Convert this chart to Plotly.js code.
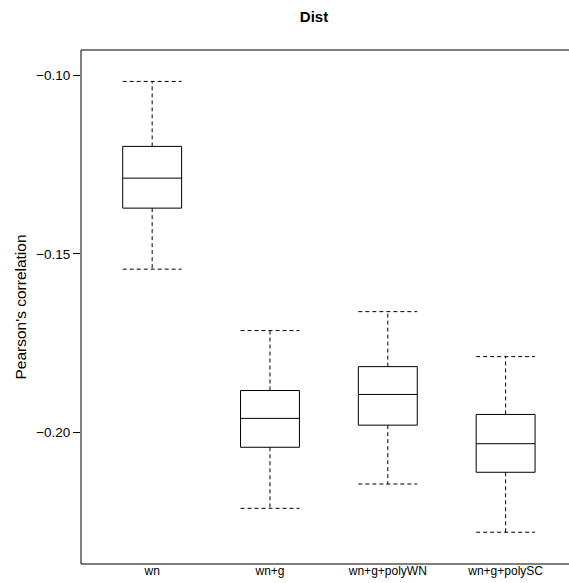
<!DOCTYPE html>
<html>
<head>
<meta charset="utf-8">
<script src="https://cdn.plot.ly/plotly-3.0.1.min.js"></script>
<style>
html, body { margin: 0; padding: 0; overflow: hidden; background: #fff; }
#chart { width: 569px; height: 583px; }
</style>
</head>
<body>
<div id="chart"></div>
<script>
// Data
const categories = ["wn", "wn+g", "wn+g+polyWN", "wn+g+polySC"];
const lowerWhisker = [-0.1543, -0.2213, -0.2145, -0.2280];
const q1Values     = [-0.1372, -0.2042, -0.1980, -0.2112];
const medianValues = [-0.1288, -0.1961, -0.1894, -0.2032];
const q3Values     = [-0.1199, -0.1883, -0.1816, -0.1950];
const upperWhisker = [-0.1017, -0.1715, -0.1662, -0.1788];
const yTickVals    = [-0.20, -0.15, -0.10];
const yTickText    = ["\u22120.20", "\u22120.15", "\u22120.10"];

const positions = categories.map((_, i) => i + 1);
const boxWidth = 0.5;
const half = boxWidth / 2;

// dashed whisker stems and caps
const wx = [], wy = [];
positions.forEach((p, i) => {
  wx.push(p, p, null, p, p, null);
  wy.push(q3Values[i], upperWhisker[i], null, q1Values[i], lowerWhisker[i], null);
  wx.push(p - half, p + half, null, p - half, p + half, null);
  wy.push(upperWhisker[i], upperWhisker[i], null, lowerWhisker[i], lowerWhisker[i], null);
});

const traces = [
  {
    type: "scatter", mode: "lines", x: wx, y: wy,
    line: { color: "#000", width: 1, dash: "4px,3px" },
    hoverinfo: "skip", showlegend: false, connectgaps: false
  },
  {
    type: "box", x: positions,
    q1: q1Values, median: medianValues, q3: q3Values,
    lowerfence: q1Values, upperfence: q3Values,
    width: boxWidth, whiskerwidth: 0,
    fillcolor: "#fff", line: { color: "#000", width: 1 },
    boxpoints: false, showlegend: false
  }
];

const frame = { color: "#000", width: 1 };
const layout = {
  width: 569, height: 583,
  margin: { l: 80.7, r: 0, t: 50, b: 18.7 },
  paper_bgcolor: "#fff", plot_bgcolor: "#fff",
  font: { family: "Liberation Sans, Arial, sans-serif", color: "#000", size: 12 },
  title: {
    text: "<b>Dist</b>", font: { size: 15, color: "#000" },
    x: 314 / 569, xref: "container", xanchor: "center",
    y: 1 - 17 / 583, yref: "container", yanchor: "middle"
  },
  shapes: [
    { type: "line", xref: "paper", yref: "paper", x0: 0, x1: 0, y0: 0, y1: 1, line: frame },
    { type: "line", xref: "paper", yref: "paper", x0: 0, x1: 1.05, y0: 0, y1: 0, line: frame },
    { type: "line", xref: "paper", yref: "paper", x0: 0, x1: 1.05, y0: 1, y1: 1, line: frame }
  ],
  xaxis: {
    range: [0.396, 4.538], tickvals: positions, ticktext: categories,
    ticks: "", showgrid: false, zeroline: false, showline: false,
    tickfont: { size: 12 }, ticklabelstandoff: -2, fixedrange: true
  },
  yaxis: {
    range: [-0.2369, -0.0929], tickvals: yTickVals, ticktext: yTickText,
    ticks: "outside", ticklen: 7, tickcolor: "#000", tickwidth: 1,
    showgrid: false, zeroline: false, showline: false,
    tickfont: { size: 13.5 },
    title: { text: "Pearson's correlation", font: { size: 15.5 }, standoff: 5 },
    fixedrange: true
  }
};

Plotly.newPlot("chart", traces, layout, { displayModeBar: false, staticPlot: true });
</script>
</body>
</html>
